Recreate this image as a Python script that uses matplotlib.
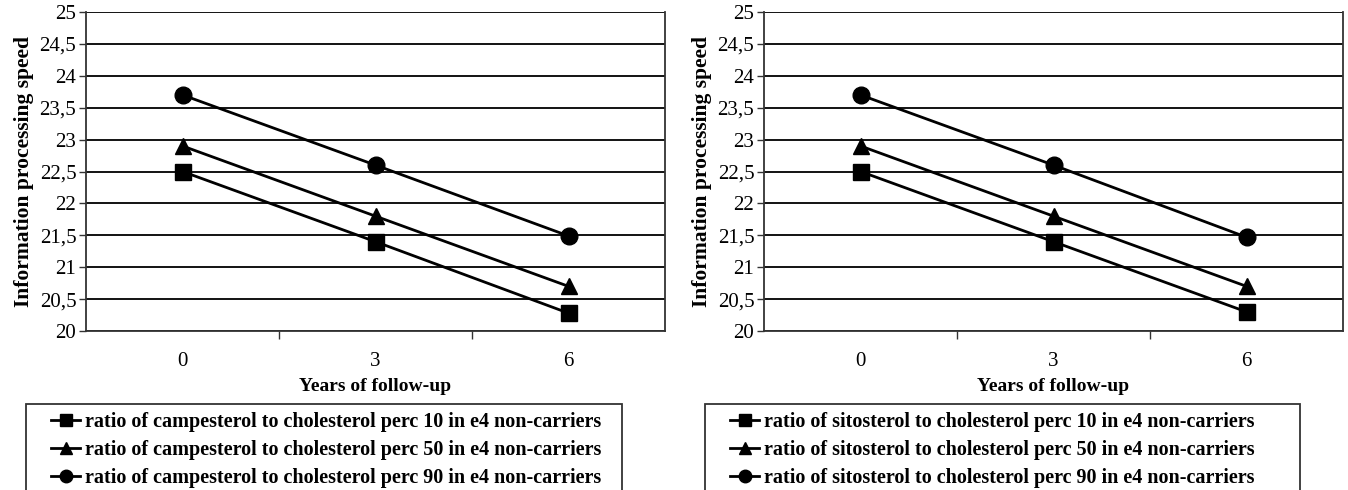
import matplotlib
matplotlib.use("Agg")
import matplotlib.pyplot as plt
from matplotlib.patches import Rectangle
from matplotlib.ticker import FuncFormatter, FixedLocator

plt.rcParams['font.family'] = ['Liberation Serif', 'DejaVu Serif']

years = ["0", "3", "6"]

campesterol_p10 = [22.5, 21.4, 20.28]
campesterol_p50 = [22.9, 21.8, 20.7]
campesterol_p90 = [23.7, 22.6, 21.49]

sitosterol_p10 = [22.5, 21.4, 20.3]
sitosterol_p50 = [22.9, 21.8, 20.7]
sitosterol_p90 = [23.7, 22.6, 21.47]

left_labels = [
    "ratio of campesterol to cholesterol perc 10 in e4 non-carriers",
    "ratio of campesterol to cholesterol perc 50 in e4 non-carriers",
    "ratio of campesterol to cholesterol perc 90 in e4 non-carriers",
]
right_labels = [
    "ratio of sitosterol to cholesterol perc 10 in e4 non-carriers",
    "ratio of sitosterol to cholesterol perc 50 in e4 non-carriers",
    "ratio of sitosterol to cholesterol perc 90 in e4 non-carriers",
]

W, H = 1348, 490
fig = plt.figure(figsize=(W / 100, H / 100), dpi=100)


def panel(x0, series, labels, box):
    ax = fig.add_axes([x0 / W, 1 - 331 / H, 579 / W, 319 / H])
    xs = range(len(years))
    markers = ["s", "^", "o"]
    handles = []
    for vals, m, lab in zip(series, markers, labels):
        h, = ax.plot(xs, vals, color="black", lw=2.0, marker=m, ms=12,
                     label=lab, zorder=3)
        handles.append(h)
    ax.set_xlim(-0.5, 2.5)
    ax.set_ylim(20, 25)
    yt = [20 + 0.5 * i for i in range(11)]
    ax.set_yticks(yt)
    ax.yaxis.set_major_formatter(FuncFormatter(
        lambda v, p: ("%g" % v).replace(".", ",")))
    ax.xaxis.set_major_locator(FixedLocator([0.5, 1.5]))
    ax.set_xticklabels([])
    ax.set_xticks([0, 1, 2], years, minor=True)
    ax.tick_params(axis="x", which="major", length=6, width=1, direction="out",
                   color="#333333")
    ax.tick_params(axis="x", which="minor", length=0, pad=15, labelsize=15)
    ax.tick_params(axis="y", length=5, width=1, direction="out", labelsize=15,
                   color="#333333", pad=2)
    ax.grid(axis="y", color="black", lw=1.3)
    ax.set_axisbelow(True)
    for s in ax.spines.values():
        s.set_color("#333333")
        s.set_linewidth(1.3)
    ax.spines["top"].set_visible(False)
    ax.set_ylabel("Information processing speed", fontsize=15.5,
                  fontweight="bold", labelpad=4)
    ax.set_xlabel("Years of follow-up", fontsize=14, fontweight="bold",
                  labelpad=5)

    bx0, bx1 = box
    fig.patches.append(Rectangle((bx0 / W, -0.05), (bx1 - bx0) / W,
                                 (H - 404) / H + 0.05, transform=fig.transFigure,
                                 fill=False, edgecolor="#333333", lw=1.3))
    fig.legend(handles=handles, loc="upper left",
               bbox_to_anchor=((bx0 + 25) / W, 1 - 412 / H),
               frameon=False, prop={"weight": "bold", "size": 14.5},
               markerscale=0.75, handlelength=1.45, handletextpad=0.25,
               labelspacing=0.4, borderpad=0, borderaxespad=0)
    return ax


panel(86, [campesterol_p10, campesterol_p50, campesterol_p90], left_labels,
      (26, 622))
panel(764, [sitosterol_p10, sitosterol_p50, sitosterol_p90], right_labels,
      (705, 1300))

fig.savefig("out.png", dpi=100)
